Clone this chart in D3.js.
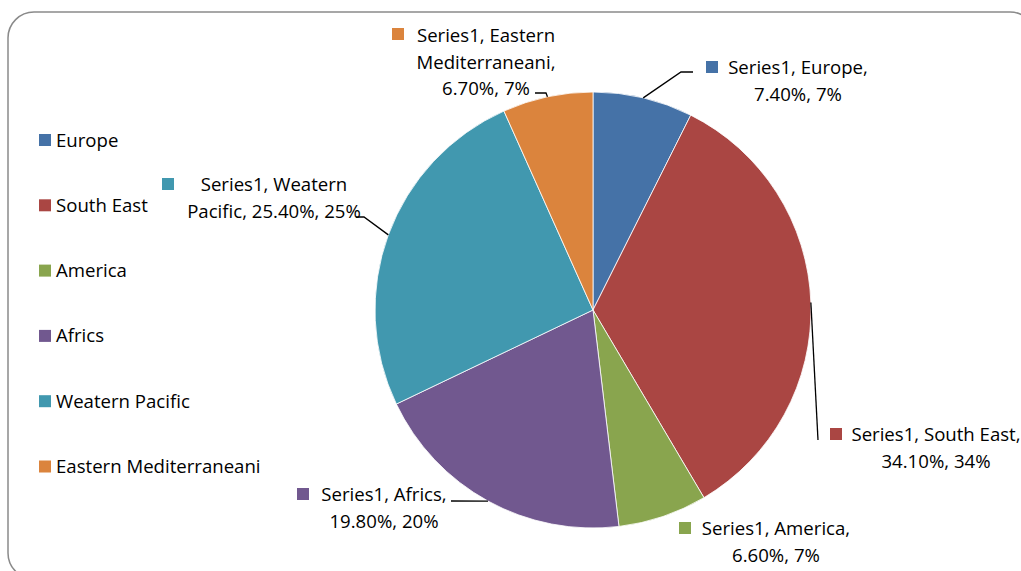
<!DOCTYPE html>
<html>
<head>
<meta charset="utf-8">
<script src="https://cdn.jsdelivr.net/npm/d3@7"></script>
<style>
  body { margin: 0; background: #fff; }
  text { font-family: "Open Sans", Lato, sans-serif; font-size: 18.6px; fill: #000; }
</style>
</head>
<body>
<div id="chart"></div>
<script>
// Chart data
let regions = ["Europe", "South East", "America", "Africs", "Weatern Pacific", "Eastern Mediterraneani"];
let shares = [7.4, 34.1, 6.6, 19.8, 25.4, 6.7];
let seriesName = "Series1";
let colors = ["#4572A7", "#AA4643", "#89A54E", "#71588F", "#4198AF", "#DB843D"];

// label text lines (as in the original data labels)
let labelLines = [
    ["Series1, Europe,", "7.40%, 7%"],
    ["Series1, South East,", "34.10%, 34%"],
    ["Series1, America,", "6.60%, 7%"],
    ["Series1, Africs,", "19.80%, 20%"],
    ["Series1, Weatern", "Pacific, 25.40%, 25%"],
    ["Series1, Eastern", "Mediterraneani,", "6.70%, 7%"]
];

let svgWidth = 1021;
let svgHeight = 571;

let svg = d3.select("#chart")
    .append("svg")
    .attr("width", svgWidth)
    .attr("height", svgHeight);

// chart border (rounded, runs off the right and bottom)
svg.append("rect")
    .attr("x", 8)
    .attr("y", 12)
    .attr("width", 1028)
    .attr("height", 567)
    .attr("rx", 26)
    .attr("fill", "none")
    .attr("stroke", "#8a8a8a")
    .attr("stroke-width", 1.5);

let cx = 593, cy = 310, radius = 218;

let pie = d3.pie().sort(null).value(d => d);
let arcs = pie(shares);

let arc = d3.arc().innerRadius(0).outerRadius(radius);
let edgeArc = d3.arc().innerRadius(radius).outerRadius(radius);

let pieGroup = svg.append("g")
    .attr("transform", `translate(${cx}, ${cy})`);

pieGroup.selectAll("path")
    .data(arcs)
    .enter()
    .append("path")
    .attr("d", arc)
    .attr("fill", (d, i) => colors[i])
    .attr("stroke", "#fff")
    .attr("stroke-width", 0.8);

// label layout: centre of text block, first baseline, square position, leader bend points
let labelLayout = [
    { x: 798, y: 74, sq: [706, 61], leader: [[681, 72], [693, 72]] },
    { x: 936, y: 441, sq: [830, 428], leader: [[818, 440]] },
    { x: 776, y: 535, sq: [679, 522], leader: [] },
    { x: 384, y: 501, sq: [297, 488], leader: [[451, 501]] },
    { x: 274, y: 191, sq: [162, 178], leader: [[364, 217], [356, 217]] },
    { x: 486, y: 42, sq: [392, 28], leader: [[546, 93], [535, 93]] }
];

// leader lines
let line = d3.line();
arcs.forEach(function(d, i) {
    let lay = labelLayout[i];
    if (lay.leader.length === 0) return;
    let c = edgeArc.centroid(d);
    let pts = [[c[0] + cx, c[1] + cy]].concat(lay.leader);
    svg.append("path")
        .attr("d", line(pts))
        .attr("fill", "none")
        .attr("stroke", "#000")
        .attr("stroke-width", 1.3);
});

// data labels
let labels = svg.selectAll(".data-label")
    .data(labelLayout)
    .enter()
    .append("g")
    .attr("class", "data-label");

labels.append("rect")
    .attr("x", d => d.sq[0])
    .attr("y", d => d.sq[1])
    .attr("width", 12)
    .attr("height", 12)
    .attr("fill", (d, i) => colors[i]);

labels.each(function(d, i) {
    let t = d3.select(this).append("text")
        .attr("text-anchor", "middle");
    labelLines[i].forEach(function(s, j) {
        t.append("tspan")
            .attr("x", d.x)
            .attr("y", d.y + j * 26.5)
            .text(s);
    });
});

// legend
let legend = svg.append("g")
    .attr("transform", "translate(39, 134)");

let items = legend.selectAll("g")
    .data(regions)
    .enter()
    .append("g")
    .attr("transform", (d, i) => `translate(0, ${i * 65.3})`);

items.append("rect")
    .attr("width", 12)
    .attr("height", 12)
    .attr("fill", (d, i) => colors[i]);

items.append("text")
    .attr("x", 17)
    .attr("y", 12.5)
    .text(d => d);
</script>
</body>
</html>
